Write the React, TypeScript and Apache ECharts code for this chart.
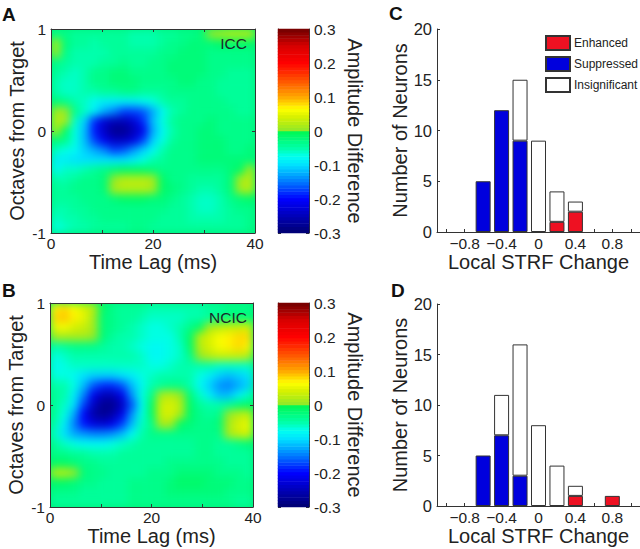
import React, { useEffect, useRef } from "react";
import * as echarts from "echarts";

const timeLags = ["0","2","4","6","8","10","12","14","16","18","20","22","24","26","28","30","32","34","36","38","40"];
const octaves = ["1","0.9","0.8","0.7","0.6","0.5","0.4","0.3","0.2","0.1","0","-0.1","-0.2","-0.3","-0.4","-0.5","-0.6","-0.7","-0.8","-0.9","-1"];

// amplitude difference × 100; rows run from +1 to -1 octave, columns from 0 to 40 ms
const iccField = [
  [-3,-3,-4,-4,-4,-4,-4,-4,-5,-5,-5,-4,-4,-3,-3,-2,0,1,2,2,2],
  [1,-2,-4,-4,-5,-4,-4,-4,-5,-5,-5,-4,-3,-3,-2,-2,-2,-1,-1,-1,-1],
  [0,-3,-5,-5,-5,-5,-4,-4,-4,-4,-4,-3,-3,-2,-2,-2,-3,-3,-3,-3,-3],
  [-3,-4,-5,-5,-5,-4,-4,-3,-4,-4,-3,-3,-2,-2,-2,-2,-3,-3,-3,-3,-3],
  [-4,-5,-6,-5,-3,-3,-2,-2,-3,-3,-3,-3,-2,-2,-2,-2,-3,-3,-4,-4,-4],
  [-5,-6,-6,-5,-3,-3,-2,-2,-2,-3,-3,-3,-3,-2,-2,-3,-3,-4,-4,-4,-4],
  [-5,-6,-6,-5,-5,-4,-4,-3,-3,-4,-4,-4,-3,-3,-3,-3,-3,-4,-4,-4,-4],
  [-2,-3,-5,-6,-8,-9,-9,-9,-9,-8,-7,-5,-4,-4,-3,-3,-3,-3,-4,-4,-4],
  [1,0,-3,-6,-9,-13,-15,-17,-17,-16,-13,-8,-5,-4,-3,-3,-3,-3,-3,-4,-4],
  [2,1,-6,-11,-18,-23,-25,-25,-23,-18,-12,-7,-4,-3,-3,-3,-2,-3,-3,-3,-3],
  [1,-1,-7,-12,-19,-24,-28,-28,-25,-21,-13,-8,-5,-3,-3,-2,-2,-3,-3,-3,-3],
  [-2,-3,-7,-12,-17,-21,-24,-24,-22,-17,-11,-7,-4,-3,-3,-2,-2,-2,-3,-3,-3],
  [-6,-7,-8,-11,-13,-15,-17,-16,-14,-11,-8,-5,-3,-3,-3,-2,-2,-2,-3,-3,-2],
  [-9,-9,-10,-10,-10,-10,-10,-10,-9,-7,-5,-4,-3,-3,-3,-2,-2,-2,-2,-2,-2],
  [-8,-6,-6,-5,-4,-3,-2,-1,-1,-1,-2,-3,-3,-3,-3,-3,-3,-3,-2,-1,1],
  [-5,-5,-4,-3,-3,-2,0,2,2,2,1,-1,-3,-3,-4,-4,-4,-4,-2,1,2],
  [-4,-4,-3,-3,-3,-2,1,2,2,2,1,-1,-2,-3,-4,-5,-5,-4,-2,1,2],
  [-4,-4,-4,-3,-3,-3,-2,-1,-1,-1,-2,-2,-3,-4,-5,-6,-6,-5,-3,-2,-1],
  [-5,-5,-4,-4,-3,-3,-3,-3,-3,-3,-3,-3,-4,-4,-5,-6,-6,-5,-4,-3,-3],
  [-6,-5,-5,-4,-4,-3,-3,-3,-3,-3,-3,-4,-4,-4,-5,-5,-5,-5,-4,-4,-3],
  [-7,-6,-5,-5,-4,-4,-4,-4,-3,-3,-4,-4,-4,-4,-4,-4,-4,-4,-4,-4,-3],
];

const ncicField = [
  [7,8,6,4,2,-1,-3,-4,-4,-4,-5,-5,-5,-5,-5,-5,-4,-4,-3,-3,-3],
  [8,9,7,5,1,-2,-3,-4,-4,-5,-6,-6,-6,-6,-5,-5,-4,-3,-2,-2,-2],
  [5,6,4,3,1,-2,-3,-4,-5,-6,-7,-7,-6,-5,-3,-1,1,2,3,3,4],
  [1,1,1,1,0,-2,-4,-5,-5,-6,-7,-7,-7,-5,-1,2,4,6,7,8,8],
  [-5,-4,-3,-3,-3,-4,-5,-5,-6,-7,-8,-8,-7,-6,-1,2,4,6,7,8,7],
  [-7,-6,-5,-5,-5,-5,-5,-5,-5,-6,-8,-8,-7,-6,-3,0,2,3,3,3,2],
  [-8,-7,-6,-6,-6,-6,-6,-6,-6,-6,-7,-7,-6,-5,-5,-5,-5,-6,-6,-6,-6],
  [-7,-7,-8,-10,-11,-11,-11,-10,-9,-7,-6,-5,-5,-5,-5,-7,-9,-11,-12,-11,-10],
  [-5,-5,-7,-12,-16,-18,-18,-16,-12,-8,-5,-4,-3,-3,-5,-8,-11,-14,-15,-13,-11],
  [-4,-5,-9,-15,-21,-25,-25,-21,-14,-7,-3,1,2,0,-2,-6,-9,-12,-12,-9,-6],
  [-4,-6,-10,-17,-24,-28,-28,-24,-16,-8,-1,3,4,2,-1,-4,-5,-5,-4,-2,-1],
  [-4,-7,-13,-20,-26,-28,-26,-21,-14,-7,-1,3,4,1,-1,-3,-4,-3,0,2,3],
  [-5,-9,-15,-19,-22,-23,-21,-17,-12,-6,-3,1,1,-1,-2,-3,-3,-2,1,4,5],
  [-6,-10,-13,-14,-15,-15,-14,-12,-8,-5,-3,-3,-3,-3,-3,-3,-3,-3,1,3,4],
  [-4,-6,-7,-8,-8,-8,-7,-6,-5,-4,-4,-4,-4,-4,-4,-3,-3,-4,-4,-3,-2],
  [-3,-3,-4,-4,-5,-5,-5,-4,-4,-4,-4,-4,-4,-4,-4,-3,-3,-4,-4,-4,-4],
  [-1,-1,-2,-3,-3,-4,-4,-4,-4,-4,-4,-4,-3,-3,-3,-3,-3,-3,-4,-4,-4],
  [2,2,0,-2,-3,-3,-4,-4,-4,-4,-3,-3,-3,-2,-2,-2,-2,-3,-3,-3,-4],
  [-1,-1,-2,-3,-3,-4,-4,-4,-3,-3,-3,-3,-2,-1,-1,-1,-2,-2,-2,-3,-3],
  [-3,-3,-3,-4,-4,-4,-4,-4,-3,-3,-3,-3,-2,-2,-2,-2,-2,-2,-3,-3,-3],
  [-4,-4,-4,-4,-4,-4,-4,-4,-3,-3,-3,-3,-3,-3,-3,-3,-3,-3,-3,-4,-4],
];

const bins = ["-1.0","-0.8","-0.6","-0.4","-0.2","0","0.2","0.4","0.6","0.8","1.0"];
const binLabels: Record<string, string> = { "-0.8": "\u22120.8", "-0.4": "\u22120.4", "0": "0", "0.4": "0.4", "0.8": "0.8" };

const enhancedC = [null,null,null,null,null,null,1,2,null,null,null];
const suppressedC = [null,null,5,12,9,null,null,null,null,null,null];
const insignificantC = [null,null,null,null,6,9,3,1,null,null,null];

const enhancedD = [null,null,null,null,null,null,null,1,null,1,null];
const suppressedD = [null,null,5,7,3,null,null,null,null,null,null];
const insignificantD = [null,null,null,4,13,8,4,1,null,null,null];

const colorStops: [number, string][] = [
  [-0.3, "#000070"], [-0.2, "#0000ff"], [-0.15, "#0078ff"], [-0.1, "#00e0ff"], [-0.075, "#00fff0"],
  [-0.05, "#00ffa8"], [0, "#00f850"], [0.0001, "#8fe82a"], [0.04, "#d4f000"], [0.065, "#ffff00"],
  [0.1, "#ffa800"], [0.15, "#ff5000"], [0.2, "#ff0000"], [0.25, "#d80000"], [0.3, "#700000"],
];

const LEVELS = 64;
function colorAt(v: number): string {
  for (let i = 1; i < colorStops.length; i++) {
    if (v <= colorStops[i][0]) {
      const [a, ca] = colorStops[i - 1];
      const [b, cb] = colorStops[i];
      return echarts.color.lerp((v - a) / (b - a), [ca, cb]) as string;
    }
  }
  return colorStops[colorStops.length - 1][1];
}
const levelEdges = Array.from({ length: LEVELS + 1 }, (_, i) => -0.3 + (0.6 * i) / LEVELS);
const levelCentres = levelEdges.slice(0, LEVELS).map((e) => e + 0.3 / LEVELS);
const pieces = levelCentres.map((c, i) => ({
  gte: i === 0 ? -1 : levelEdges[i],
  lt: i === LEVELS - 1 ? 1 : levelEdges[i + 1],
  color: colorAt(c),
}));

const INK = "#222";
const AXIS = "#333";
const FONT = "'Liberation Sans', Arial, sans-serif";

function fieldOption(field: number[][]) {
  const data: [number, number, number][] = [];
  field.forEach((row, r) => row.forEach((v, c) => data.push([c, field.length - 1 - r, v / 100])));
  return {
    animation: false,
    grid: { left: 0, right: 0, top: 0, bottom: 0 },
    xAxis: { type: "category", data: timeLags, show: false },
    yAxis: { type: "category", data: [...octaves].reverse(), show: false },
    visualMap: { type: "piecewise", show: false, dimension: 2, pieces },
    series: [{ type: "heatmap", data, progressive: 0, silent: true }],
  };
}

const lineStyle = { color: AXIS, width: 1 };
const tick = { show: true, inside: true, length: 3, lineStyle };
const tickLabel = { color: INK, fontSize: 15.5, fontFamily: FONT };
const nameStyle = { color: INK, fontSize: 20, fontFamily: FONT };

function boxAxes(grid: number) {
  const base = { gridIndex: grid, type: "value" };
  const x = [
    {
      ...base, position: "bottom", min: 0, max: 40, interval: 10,
      name: "Time Lag (ms)", nameLocation: "middle", nameGap: 19, nameTextStyle: nameStyle,
      axisLine: { show: true, onZero: false, lineStyle }, axisTick: tick, splitLine: { show: false },
      axisLabel: { ...tickLabel, margin: 2, hideOverlap: false, formatter: (v: number) => (v % 20 === 0 ? String(v) : "") },
    },
    {
      ...base, position: "top", min: 0, max: 40, interval: 10,
      axisLine: { show: true, onZero: false, lineStyle }, axisTick: tick, axisLabel: { show: false }, splitLine: { show: false },
    },
  ];
  const y = [
    {
      ...base, position: "left", min: -1, max: 1, interval: 1,
      name: "Octaves from Target", nameLocation: "middle", nameGap: 24, nameTextStyle: nameStyle,
      axisLine: { show: true, onZero: false, lineStyle }, axisTick: tick, splitLine: { show: false },
      axisLabel: { ...tickLabel, margin: 5, formatter: (v: number) => String(v) },
    },
    {
      ...base, position: "right", min: -1, max: 1, interval: 1,
      axisLine: { show: true, onZero: false, lineStyle }, axisTick: tick, axisLabel: { show: false }, splitLine: { show: false },
    },
  ];
  return { x, y };
}

function colorbarAxes(grid: number) {
  const x = [{ gridIndex: grid, type: "category", data: ["level"], show: false }];
  const y = [
    { gridIndex: grid, type: "category", data: levelCentres.map((c) => c.toFixed(4)), show: false },
    {
      gridIndex: grid, type: "value", position: "right", min: -0.3, max: 0.3, interval: 0.1,
      name: "Amplitude Difference", nameLocation: "middle", nameRotate: -90, nameGap: 34, nameTextStyle: nameStyle,
      axisLine: { show: true, onZero: false, lineStyle }, axisTick: tick, splitLine: { show: false },
      axisLabel: { ...tickLabel, margin: 5, formatter: (v: number) => (Math.abs(v) < 1e-6 ? "0" : v.toFixed(1)) },
    },
    {
      gridIndex: grid, type: "value", position: "left", min: -0.3, max: 0.3, interval: 0.1,
      axisLine: { show: true, onZero: false, lineStyle }, axisTick: tick, axisLabel: { show: false }, splitLine: { show: false },
    },
  ];
  return { x, y };
}

function barAxes(grid: number) {
  const x = [{
    gridIndex: grid, type: "category", data: bins, position: "bottom",
    name: "Local STRF Change", nameLocation: "middle", nameGap: 20, nameTextStyle: nameStyle,
    axisLine: { show: true, onZero: false, lineStyle },
    axisTick: { ...tick, alignWithLabel: true, interval: 0 },
    axisLabel: { ...tickLabel, margin: 3, interval: (i: number) => i % 2 === 1, formatter: (v: string) => binLabels[v] ?? "" },
  }];
  const y = [{
    gridIndex: grid, type: "value", position: "left", min: 0, max: 20, interval: 5,
    name: "Number of Neurons", nameLocation: "middle", nameGap: 18, nameTextStyle: nameStyle,
    axisLine: { show: true, lineStyle }, axisTick: tick, splitLine: { show: false },
    axisLabel: { ...tickLabel, fontSize: 16.5, margin: 5 },
  }];
  return { x, y };
}

const grids = [
  { left: 51, top: 29, width: 204, height: 204 },
  { left: 278, top: 29, width: 31, height: 204 },
  { left: 437, top: 29, width: 203, height: 203 },
  { left: 50, top: 303, width: 203, height: 204 },
  { left: 278, top: 303, width: 31, height: 204 },
  { left: 437, top: 304, width: 203, height: 202 },
];

function mainOption() {
  const parts = [boxAxes(0), colorbarAxes(1), barAxes(2), boxAxes(3), colorbarAxes(4), barAxes(5)];
  const xAxis: any[] = [];
  const yAxis: any[] = [];
  const offsetX: number[] = [];
  const offsetY: number[] = [];
  parts.forEach((p) => {
    offsetX.push(xAxis.length);
    offsetY.push(yAxis.length);
    xAxis.push(...p.x);
    yAxis.push(...p.y);
  });
  const barData = levelCentres.map((_, i) => [0, i, levelCentres[i]]);
  const bar = (name: string, data: (number | null)[], color: string, panel: number) => ({
    type: "bar", name, data, stack: "p" + panel, barWidth: 15,
    xAxisIndex: offsetX[panel], yAxisIndex: offsetY[panel],
    itemStyle: { color, borderColor: AXIS, borderWidth: 1, borderRadius: 0, borderJoin: "miter" }, silent: true,
  });
  return {
    animation: false,
    grid: grids,
    xAxis,
    yAxis,
    visualMap: { type: "piecewise", show: false, dimension: 2, pieces, seriesIndex: [0, 1] },
    legend: {
      left: 545, top: 35, orient: "vertical", itemWidth: 24, itemHeight: 14, itemGap: 5, padding: 0,
      selectedMode: false, icon: "rect",
      data: ["Enhanced", "Suppressed", "Insignificant"],
      textStyle: { color: INK, fontSize: 12, fontFamily: FONT, padding: [0, 0, 0, -1] },
    },
    series: [
      { type: "heatmap", data: barData, xAxisIndex: offsetX[1], yAxisIndex: offsetY[1], silent: true, progressive: 0 },
      { type: "heatmap", data: barData, xAxisIndex: offsetX[4], yAxisIndex: offsetY[4], silent: true, progressive: 0 },
      bar("Enhanced", enhancedC, "#ee1122", 2),
      bar("Suppressed", suppressedC, "#0000dd", 2),
      bar("Insignificant", insignificantC, "#ffffff", 2),
      bar("Enhanced", enhancedD, "#ee1122", 5),
      bar("Suppressed", suppressedD, "#0000dd", 5),
      bar("Insignificant", insignificantD, "#ffffff", 5),
    ],
    graphic: [
      ["A", 2, 14], ["B", 2, 290], ["C", 389, 13], ["D", 391, 290],
    ].map(([text, x, y]) => ({
      type: "text", x, y,
      style: { text, fontSize: 19, fontWeight: "bold", fontFamily: FONT, fill: "#111", textVerticalAlign: "middle" },
    })).concat([
      ["ICC", 247, 43], ["NCIC", 247, 317],
    ].map(([text, x, y]) => ({
      type: "text", x, y,
      style: { text, fontSize: 15.5, fontFamily: FONT, fill: "#1a2a2a", textAlign: "right", textVerticalAlign: "middle" },
    })) as any),
  };
}

function Field({ grid, field }: { grid: { left: number; top: number; width: number; height: number }; field: number[][] }) {
  const ref = useRef<HTMLDivElement>(null);
  useEffect(() => {
    const chart = echarts.init(ref.current!, undefined, { renderer: "svg" });
    chart.setOption(fieldOption(field) as any);
    return () => chart.dispose();
  }, [field]);
  return (
    <div style={{ position: "absolute", left: grid.left, top: grid.top, width: grid.width, height: grid.height, overflow: "hidden", background: "#00f078" }}>
      <div ref={ref} style={{ width: grid.width, height: grid.height, filter: "blur(4px)" }} />
    </div>
  );
}

export default function App() {
  const ref = useRef<HTMLDivElement>(null);
  useEffect(() => {
    document.body.style.margin = "0";
    const chart = echarts.init(ref.current!, undefined, { renderer: "svg" });
    chart.setOption(mainOption() as any);
    return () => chart.dispose();
  }, []);
  return (
    <div style={{ position: "relative", width: 640, height: 549, background: "#fff" }}>
      <Field grid={grids[0]} field={iccField} />
      <Field grid={grids[3]} field={ncicField} />
      <div ref={ref} style={{ position: "absolute", left: 0, top: 0, width: 640, height: 549 }} />
    </div>
  );
}
